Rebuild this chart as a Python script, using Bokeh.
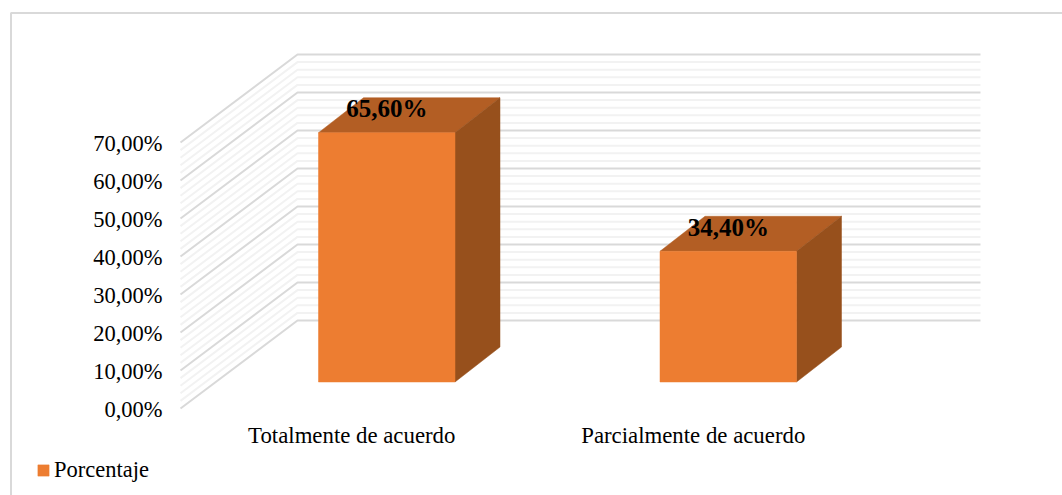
from bokeh.core.properties import value
from bokeh.embed import file_html
from bokeh.models import ColumnDataSource, Legend, LegendItem
from bokeh.plotting import figure
from bokeh.resources import INLINE

# Survey results
categories = ["Totalmente de acuerdo", "Parcialmente de acuerdo"]
porcentaje = [65.60, 34.40]
value_labels = ["65,60%", "34,40%"]
tick_values = [0, 10, 20, 30, 40, 50, 60, 70]
tick_labels = ["0,00%", "10,00%", "20,00%", "30,00%", "40,00%", "50,00%", "60,00%", "70,00%"]
series_name = "Porcentaje"

WIDTH, HEIGHT = 1062, 495
SERIF = "Liberation Serif"

# Pixel scale of the chart: one category step and one percentage point
PX_PER_CAT = 341.5
PX_PER_PCT = 3.8
ZERO_X_PX = 386.25     # centre of the first category
ZERO_Y_PX = 381.5      # front baseline of the columns

def cat_dx(px):
    return px / PX_PER_CAT

def pct_dy(px):
    return px / PX_PER_PCT

p = figure(
    width=WIDTH, height=HEIGHT, output_backend="svg", toolbar_location=None,
    x_range=(-ZERO_X_PX / PX_PER_CAT, (WIDTH - ZERO_X_PX) / PX_PER_CAT),
    y_range=((ZERO_Y_PX - HEIGHT) / PX_PER_PCT, ZERO_Y_PX / PX_PER_PCT),
    min_border=0, outline_line_color=None,
)
p.axis.visible = False
p.grid.visible = False

# Chart-area border: only the top and left edges fall inside the page
BORDER = "#D9D9D9"
p.line(
    x=[cat_dx(10.5 - ZERO_X_PX), cat_dx(10.5 - ZERO_X_PX), cat_dx(WIDTH - ZERO_X_PX)],
    y=[pct_dy(ZERO_Y_PX - HEIGHT), pct_dy(ZERO_Y_PX - 12.5), pct_dy(ZERO_Y_PX - 12.5)],
    line_color=BORDER, line_width=2,
)

# Projection of the 3D walls: back wall, and the front edge of the side wall
WALL_LEFT = cat_dx(297 - ZERO_X_PX)
WALL_RIGHT = cat_dx(980 - ZERO_X_PX)
EDGE_LEFT = cat_dx(180 - ZERO_X_PX)
BACK_BASE = pct_dy(ZERO_Y_PX - 320)
EDGE_BASE = pct_dy(ZERO_Y_PX - 408)

def wall_line(v):
    return ([EDGE_LEFT, WALL_LEFT, WALL_RIGHT],
            [EDGE_BASE + v, BACK_BASE + v, BACK_BASE + v])

# Minor gridlines every 2 points, major every 10
minor = [v for v in range(0, 70, 2) if v % 10]
major = tick_values
minor_xy = [wall_line(v) for v in minor]
major_xy = [wall_line(v) for v in major]
p.multi_line([a for a, _ in minor_xy], [b for _, b in minor_xy], line_color="#F2F2F2", line_width=2)
p.multi_line([a for a, _ in major_xy], [b for _, b in major_xy], line_color="#D9D9D9", line_width=2)

# Value axis labels follow the front edge of the side wall
p.text(
    x=[cat_dx(162 - ZERO_X_PX)] * len(tick_values),
    y=[EDGE_BASE + v + pct_dy(-1) for v in tick_values],
    text=tick_labels, text_font=value(SERIF), text_font_size="22.5px",
    text_align="right", text_baseline="middle", text_color="#000000",
)

# Columns drawn as three faces
HALF = cat_dx(136.5) / 2
DEPTH_X = cat_dx(45)
DEPTH_Y = pct_dy(35)
FRONT, TOP, SIDE = "#ED7D31", "#B35E24", "#97501C"
xs = list(range(len(categories)))

top_xs = [[i - HALF, i + HALF, i + HALF + DEPTH_X, i - HALF + DEPTH_X] for i in xs]
top_ys = [[v, v, v + DEPTH_Y, v + DEPTH_Y] for v in porcentaje]
side_xs = [[i + HALF, i + HALF + DEPTH_X, i + HALF + DEPTH_X, i + HALF] for i in xs]
side_ys = [[0, DEPTH_Y, v + DEPTH_Y, v] for v in porcentaje]

p.patches(top_xs, top_ys, fill_color=TOP, line_color=TOP, line_width=0.5)
p.patches(side_xs, side_ys, fill_color=SIDE, line_color=SIDE, line_width=0.5)
src = ColumnDataSource(dict(x=xs, top=porcentaje))
front = p.vbar(x="x", top="top", bottom=0, width=2 * HALF, source=src,
               fill_color=FRONT, line_color=FRONT, line_width=0.5)

# Data labels sit over the top face
p.text(
    x=xs, y=[v + pct_dy(24) for v in porcentaje],
    text=value_labels, text_font=value(SERIF), text_font_size="25px",
    text_font_style="bold", text_align="center", text_baseline="middle", text_color="#000000",
)

# Category labels
p.text(
    x=[i + cat_dx(-35) for i in xs], y=[pct_dy(ZERO_Y_PX - 435)] * len(xs),
    text=categories, text_font=value(SERIF), text_font_size="22.8px",
    text_align="center", text_baseline="middle", text_color="#000000",
)

legend = Legend(
    items=[LegendItem(label=series_name, renderers=[front])],
    location=(36, 12), background_fill_alpha=0, border_line_color=None,
    label_text_font=SERIF, label_text_font_size="22.5px", label_text_color="#000000",
    glyph_width=14, glyph_height=14, padding=0, margin=0, label_standoff=4, spacing=0,
)
p.add_layout(legend)

open("out.html", "w").write(file_html(p, INLINE))
